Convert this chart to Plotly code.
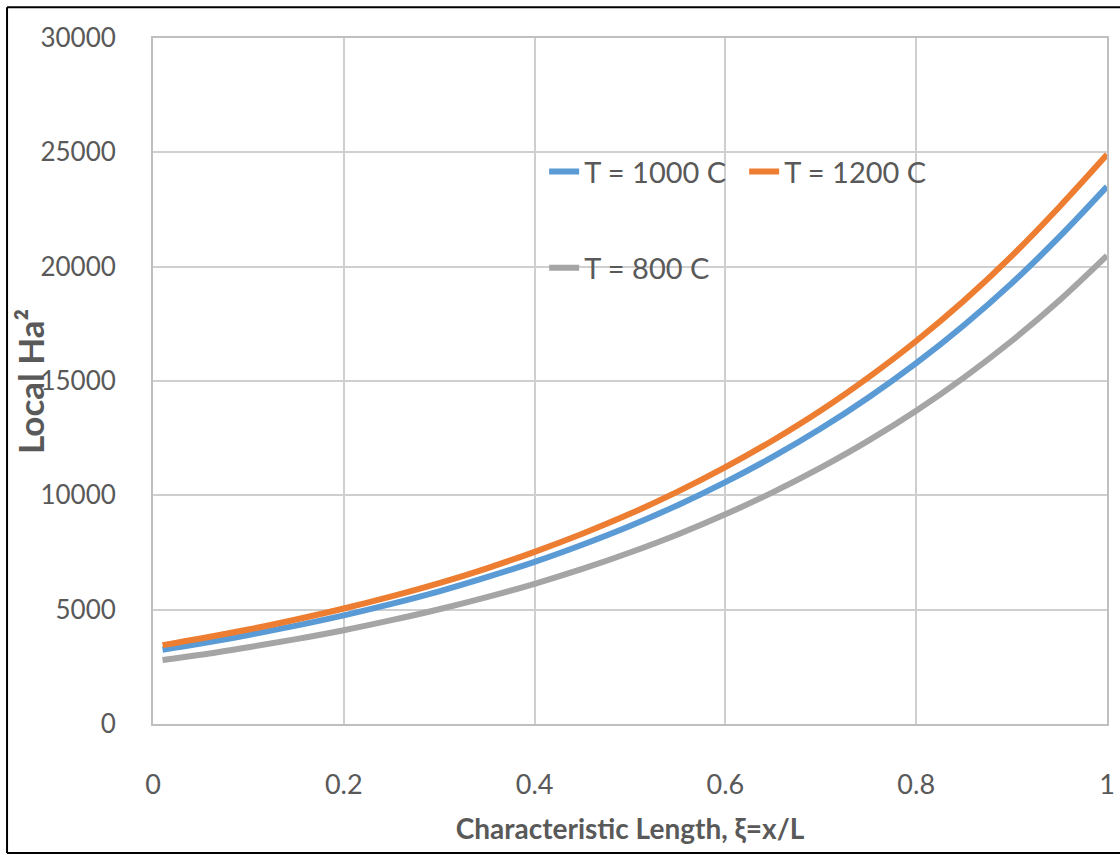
import plotly.graph_objects as go

xi = [0.01, 0.05, 0.10, 0.15, 0.20, 0.25, 0.30, 0.35, 0.40, 0.45, 0.50,
      0.55, 0.60, 0.65, 0.70, 0.75, 0.80, 0.85, 0.90, 0.95, 1.00]
ha2_1000 = [3250, 3520, 3890, 4300, 4750, 5250, 5800, 6420, 7090, 7840, 8660,
            9570, 10580, 11690, 12920, 14280, 15780, 17440, 19270, 21300, 23500]
ha2_1200 = [3450, 3740, 4130, 4570, 5050, 5580, 6160, 6810, 7530, 8320, 9190,
            10160, 11230, 12410, 13710, 15160, 16750, 18510, 20460, 22610, 24900]
ha2_800 = [2800, 3030, 3360, 3710, 4100, 4540, 5020, 5550, 6130, 6780, 7500,
           8290, 9170, 10140, 11210, 12390, 13700, 15150, 16750, 18520, 20480]
x_ticks = [0, 0.2, 0.4, 0.6, 0.8, 1.0]
x_ticktext = ["0", "0.2", "0.4", "0.6", "0.8", "1"]
y_ticks = [0, 5000, 10000, 15000, 20000, 25000, 30000]
y_ticktext = ["0", "5000", "10000", "15000", "20000", "25000", "30000"]

FONT = "Lato, Roboto, sans-serif"
TXT = "#595959"

fig = go.Figure()
fig.add_trace(go.Scatter(x=xi, y=ha2_800, mode="lines", name="T = 800 C",
                         line=dict(color="#A5A5A5", width=6, shape="spline"),
                         legend="legend2"))
fig.add_trace(go.Scatter(x=xi, y=ha2_1000, mode="lines", name="T = 1000 C",
                         line=dict(color="#5B9BD5", width=6, shape="spline"),
                         legend="legend"))
fig.add_trace(go.Scatter(x=xi, y=ha2_1200, mode="lines", name="T = 1200 C",
                         line=dict(color="#ED7D31", width=6, shape="spline"),
                         legend="legend"))

border = dict(color="black", width=2)
fig.update_layout(
    width=1120, height=855,
    margin=dict(l=153, r=13, t=38, b=131),
    paper_bgcolor="white", plot_bgcolor="white",
    font=dict(family=FONT, color=TXT, size=27),
    legend=dict(orientation="h", x=0.41, xanchor="left", y=0.805, yanchor="middle",
                bgcolor="rgba(0,0,0,0)", font=dict(size=29, color=TXT),
                entrywidth=155, traceorder="normal"),
    legend2=dict(orientation="h", x=0.41, xanchor="left", y=0.665, yanchor="middle",
                 bgcolor="rgba(0,0,0,0)", font=dict(size=29, color=TXT)),
    shapes=[
        dict(type="line", xref="paper", yref="paper", x0=-0.153, x1=-0.153,
             y0=-0.188, y1=1.045, line=border, layer="below"),
        dict(type="line", xref="paper", yref="paper", x0=-0.153, x1=1.03,
             y0=1.045, y1=1.045, line=border, layer="below"),
        dict(type="line", xref="paper", yref="paper", x0=-0.153, x1=1.03,
             y0=-0.188, y1=-0.188, line=border, layer="below"),
    ],
    annotations=[dict(text="<b>Local Ha²</b>", xref="paper", yref="paper",
                      x=-0.129, y=0.5, xanchor="center", yanchor="middle",
                      textangle=-90, showarrow=False,
                      font=dict(size=35, color=TXT))],
)
fig.update_xaxes(range=[0, 1], tickvals=x_ticks, ticktext=x_ticktext,
                 automargin=False,
                 showgrid=True, gridcolor="#CFCFCF", gridwidth=1.5,
                 showline=True, linecolor="#BFBFBF", linewidth=2, mirror=True,
                 zeroline=False, ticks="", ticklabelstandoff=36,
                 tickfont=dict(size=27, color=TXT),
                 title=dict(text="<b>Characteristic Length, ξ=x/L</b>",
                            font=dict(size=28, color=TXT), standoff=20))
fig.update_yaxes(range=[0, 30000], tickvals=y_ticks, ticktext=y_ticktext,
                 automargin=False,
                 showgrid=True, gridcolor="#CFCFCF", gridwidth=1.5,
                 showline=True, linecolor="#BFBFBF", linewidth=2, mirror=True,
                 zeroline=False, ticks="", ticklabelstandoff=30,
                 tickfont=dict(size=26, color=TXT))

fig.write_html("out.html", config={"displayModeBar": False},
               post_script="document.documentElement.style.margin='0';document.body.style.margin='0';document.body.style.padding='0';document.documentElement.style.overflow='hidden';document.body.style.overflow='hidden';")
